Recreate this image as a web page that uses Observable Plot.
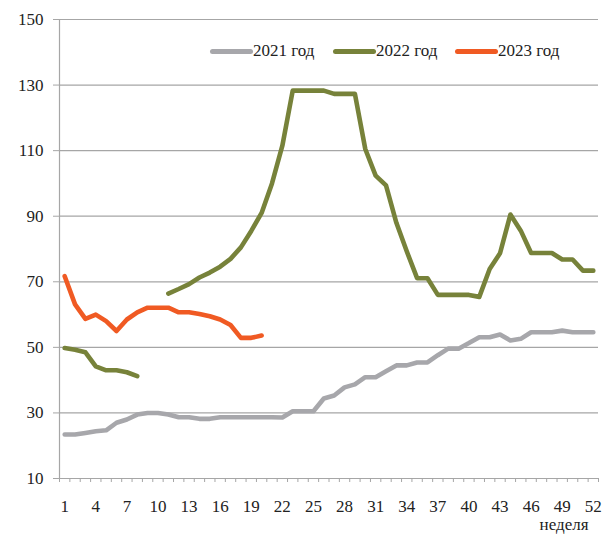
<!DOCTYPE html>
<html><head><meta charset="utf-8">
<script src="https://cdn.jsdelivr.net/npm/d3@7"></script>
<script src="https://cdn.jsdelivr.net/npm/@observablehq/plot@0.6"></script>
<style>
body{margin:0;background:#fff;}
#wrap{position:relative;width:616px;height:535px;font-family:"Liberation Serif","Tinos","Times New Roman",Times,"DejaVu Serif",serif;color:#222;}
#wrap svg, #wrap svg text{font-family:"Liberation Serif","Tinos","Times New Roman",Times,"DejaVu Serif",serif !important;}
.item{position:absolute;top:41px;display:flex;align-items:center;font-size:17px;height:20px;white-space:nowrap;}
.sw{display:inline-block;width:43px;height:5px;border-radius:3px;}
</style></head>
<body><div id="wrap"></div>
<script>
const series = ["2021 год", "2022 год", "2023 год"];
const colors = ["#a7a7ab", "#77823a", "#f05a23"];
const weeks = d3.range(1, 53);
const y2021 = [23.4, 23.4, 23.9, 24.4, 24.7, 27, 28, 29.5, 30, 30, 29.5, 28.7, 28.7, 28.2, 28.2, 28.7, 28.7, 28.7, 28.7, 28.7, 28.7, 28.6, 30.5, 30.5, 30.5, 34.4, 35.3, 37.8, 38.7, 40.9, 40.9, 42.7, 44.5, 44.5, 45.4, 45.4, 47.6, 49.6, 49.6, 51.3, 53.1, 53.1, 53.9, 52.1, 52.6, 54.6, 54.6, 54.6, 55.1, 54.6, 54.6, 54.6];
const y2022 = [49.8, 49.3, 48.5, 44.2, 43, 43, 42.4, 41.2, null, null, 66.4, 67.8, 69.3, 71.3, 72.8, 74.6, 77, 80.5, 85.5, 91, 100, 111.5, 128.3, 128.3, 128.3, 128.3, 127.3, 127.3, 127.3, 110.5, 102.4, 99.4, 88, 79.3, 71.1, 71.1, 66, 66, 66, 66, 65.4, 73.9, 78.7, 90.5, 85.6, 78.8, 78.8, 78.8, 76.8, 76.8, 73.4, 73.4];
const y2023 = [71.7, 63.1, 58.7, 60, 58, 55, 58.5, 60.7, 62.1, 62.1, 62.1, 60.7, 60.7, 60.2, 59.5, 58.5, 56.8, 52.9, 52.9, 53.6];
const xTickLabels = [1, 4, 7, 10, 13, 16, 19, 22, 25, 28, 31, 34, 37, 40, 43, 46, 49, 52];
const yTicks = [10, 30, 50, 70, 90, 110, 130, 150];
const xAxisTitle = "неделя";

const rows = [];
[y2021, y2022, y2023].forEach((vals, i) => {
  vals.forEach((v, j) => rows.push({week: weeks[j], value: v == null ? NaN : v, series: series[i]}));
});

const grid = "#a6a6a6";
const chart = Plot.plot({
  width: 616, height: 535,
  marginLeft: 59, marginRight: 18, marginTop: 19, marginBottom: 57,
  style: {fontFamily: "'Liberation Serif', Tinos, 'Times New Roman', Times, 'DejaVu Serif', serif", fontSize: "17px", color: "#222", background: "#fff"},
  x: {domain: [0.5, 52.5]},
  y: {domain: [10, 150]},
  color: {domain: series, range: colors},
  marks: [
    Plot.gridY(yTicks.slice(1), {stroke: grid, strokeOpacity: 1, strokeWidth: 1.2}),
    Plot.ruleY([10], {stroke: grid, strokeWidth: 1.2}),
    Plot.ruleX([0.5], {stroke: grid, strokeWidth: 1.2}),
    Plot.axisY({ticks: yTicks, tickSize: 6, tickPadding: 10, stroke: grid, label: null, fontSize: 17}),
    Plot.axisX({ticks: d3.range(0.5, 53, 1), tickSize: 4, tickFormat: () => "", stroke: grid, label: null}),
    Plot.axisX({ticks: xTickLabels, tickSize: 0, tickPadding: 21, label: null, fontSize: 17}),
    Plot.text([xAxisTitle], {text: d => d, frameAnchor: "bottom-right", textAnchor: "end", lineAnchor: "middle", dx: -10, dy: 46, fontSize: 17, fill: "#222"}),
    Plot.line(rows, {x: "week", y: "value", z: "series", stroke: "series", strokeWidth: 4.6, strokeLinejoin: "round", strokeLinecap: "round"})
  ]
});
const wrap = document.getElementById("wrap");
wrap.appendChild(chart);
const lefts = [210, 333, 455];
series.forEach((s, i) => {
  const d = document.createElement("div");
  d.className = "item";
  d.style.left = lefts[i] + "px";
  d.innerHTML = `<span class="sw" style="background:${colors[i]}"></span><span>${s}</span>`;
  wrap.appendChild(d);
});
</script></body></html>
